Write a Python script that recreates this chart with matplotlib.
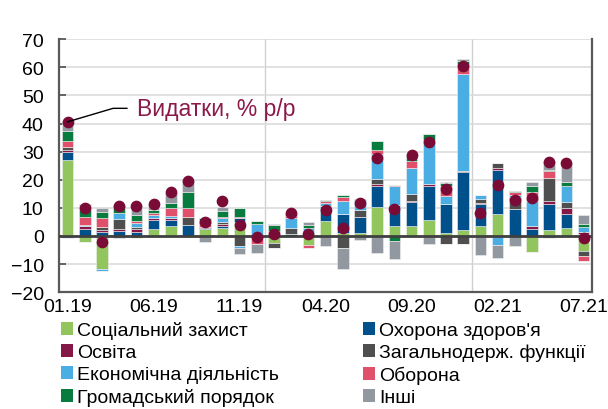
import numpy as np
import matplotlib
matplotlib.use("Agg")
import matplotlib.pyplot as plt
from matplotlib.patches import Patch

plt.rcParams['font.family'] = ['Liberation Sans', 'DejaVu Sans']

months = ['01.19', '02.19', '03.19', '04.19', '05.19', '06.19', '07.19', '08.19', '09.19', '10.19',
          '11.19', '12.19', '01.20', '02.20', '03.20', '04.20', '05.20', '06.20', '07.20', '08.20',
          '09.20', '10.20', '11.20', '12.20', '01.21', '02.21', '03.21', '04.21', '05.21', '06.21',
          '07.21']

# внески, в.п.
soc = [27.1, -2.0, -11.9, 0.0, -0.6, 2.5, 3.6, 0.0, 2.6, 2.7, 5.1, 0.3, -2.6, 0.0, -3.3, 5.2,
       1.2, 1.2, 10.4, 3.6, 3.4, 5.8, 1.2, 2.2, 3.4, 7.9, 0.0, -5.7, 2.2, 2.8, -5.3]
health = [2.9, 2.4, 1.5, 1.9, 1.5, 3.2, 2.2, 3.8, 0.3, 0.8, 1.2, 0.0, 0.0, 0.6, 1.0, 5.6,
          6.5, 5.5, 7.4, 7.5, 8.6, 12.0, 10.2, 20.4, 8.0, 15.6, 9.7, 2.6, 9.2, 5.1, 0.8]
educ = [0.7, 1.0, 0.5, 0.7, 0.8, 0.6, 0.5, 0.0, 0.3, 0.8, 0.0, 0.0, 0.0, 0.0, 0.0, 0.0,
        0.0, 0.0, 0.6, 0.0, 0.6, 0.5, 0.0, 0.5, 0.4, 0.7, 0.0, 0.8, 1.2, 2.0, 0.5]
general = [1.0, 0.0, 1.2, 3.3, 1.0, -0.4, 0.0, 3.1, 0.0, 0.6, -3.5, 0.0, -1.8, 2.4, 0.0, 0.0,
           -4.2, 2.6, 1.8, 0.0, 2.3, 0.0, -2.7, -2.7, 1.4, 1.8, 4.1, 0.0, 7.9, 2.1, -1.9]
econ = [-0.6, 0.6, -0.4, 2.1, 1.2, 1.2, 0.8, -0.5, 0.0, 1.4, -0.8, 4.0, 0.0, 3.4, 1.8, 0.9,
        4.9, 3.5, 9.0, 6.7, 9.2, 14.9, 2.9, 34.6, 1.2, -3.3, 0.6, 8.9, -0.7, 5.7, 1.9]
defence = [2.0, 2.7, 3.3, 0.2, 0.8, 0.5, 2.7, 2.9, 1.2, 0.4, 0.6, -3.0, 1.6, 0.6, -1.1, 0.8,
           1.4, 0.0, 1.2, 0.4, 2.6, 0.8, 3.5, 2.6, 0.0, 0.0, 1.2, 3.3, 2.5, 0.0, -1.7]
order = [3.6, 2.6, 2.0, 2.9, 2.1, 1.4, 2.0, 5.9, 2.0, 2.0, 3.0, 0.9, 2.3, 0.8, 1.2, 0.4,
         0.7, 0.4, 3.3, -1.8, 2.1, 2.1, 0.9, 1.8, 0.0, 0.0, 0.4, 2.0, 0.5, 1.4, 0.9]
other = [3.6, 2.1, 1.5, -0.6, 3.5, 1.5, 3.5, 4.7, -2.1, 1.5, -2.3, -2.9, 0.3, 0.5, 0.8, -3.6,
         -7.6, -1.5, -6.2, -6.5, 0.0, -2.9, 0.6, 0.9, -6.7, -4.7, -3.7, 1.5, 3.3, 6.9, 3.3]

total = [40.6, 9.8, -2.0, 10.7, 10.5, 11.5, 15.6, 19.5, 4.8, 12.3, 3.9, -0.5, 0.7, 8.1, 0.8,
         9.3, 2.8, 11.7, 27.6, 9.7, 28.8, 33.5, 16.8, 60.6, 8.0, 18.2, 12.7, 13.6, 26.3, 26.0,
         -0.8]

labels = ['Соціальний захист', "Охорона здоров'я", 'Освіта', 'Загальнодерж. функції',
          'Економічна діяльність', 'Оборона', 'Громадський порядок', 'Інші']
series = [soc, health, educ, general, econ, defence, order, other]
colors = ['#92C55E', '#00508C', '#861847', '#4F4F4F', '#4AAEE4', '#E0506A', '#087B3F', '#9298A0']

fig = plt.figure(figsize=(6.08, 4.10), dpi=100)
ax = fig.add_axes([0.097, 0.285, 0.877, 0.617])

x = np.arange(len(months))
pos_base = np.zeros(len(months))
neg_base = np.zeros(len(months))
for vals, c in zip(series, colors):
    v = np.array(vals)
    p = np.clip(v, 0, None)
    n = np.clip(v, None, 0)
    ax.bar(x, p, 0.68, bottom=pos_base, color=c, edgecolor='#F0F0F0', linewidth=0.4, zorder=3)
    ax.bar(x, n, 0.68, bottom=neg_base, color=c, edgecolor='#F0F0F0', linewidth=0.4, zorder=3)
    pos_base += p
    neg_base += n

ax.scatter(x, total, s=55, color='#7A0A36', zorder=5)

ax.axhline(0, color='#404040', lw=2, zorder=4)
ax.set_ylim(-20, 70)
ax.set_xlim(-0.5, len(months) - 0.5)
ax.set_yticks(np.arange(-20, 71, 10))
ax.grid(axis='y', color='#D9D9D9', lw=1.1, zorder=0)
for b in [11.5, 23.5]:
    ax.axvline(b, color='#D0D0D0', lw=1, zorder=0)

ax.set_xticks(x[::5])
ax.set_xticklabels(months[::5], fontsize=14)
ax.tick_params(axis='x', length=0, pad=4)
ax.tick_params(axis='y', direction='in', length=5, width=1.3, color='#595959', labelsize=14, pad=11)
for s in ['left', 'bottom', 'right']:
    ax.spines[s].set_color('#595959')
    ax.spines[s].set_linewidth(1.6)
ax.spines['top'].set_visible(False)

# підпис для точок
ax.plot([0, 2.65, 3.45], [total[0], 45.4, 45.4], color='black', lw=1, zorder=6)
ax.text(4.05, 45.4, 'Видатки, % р/р', color='#8B1A4A', fontsize=16.5, va='center', zorder=6)

handles = [Patch(facecolor=c, edgecolor='none', label=l) for c, l in zip(colors, labels)]
idx = [0, 2, 4, 6, 1, 3, 5, 7]
fig.legend([handles[i] for i in idx], [labels[i] for i in idx], ncol=2, frameon=False,
           loc='upper left', bbox_to_anchor=(0.1, 0.214), fontsize=14,
           handlelength=0.65, handleheight=0.65, handletextpad=0.2, labelspacing=0.24,
           columnspacing=4.3, borderpad=0, borderaxespad=0)

fig.savefig('out.png', dpi=100)
